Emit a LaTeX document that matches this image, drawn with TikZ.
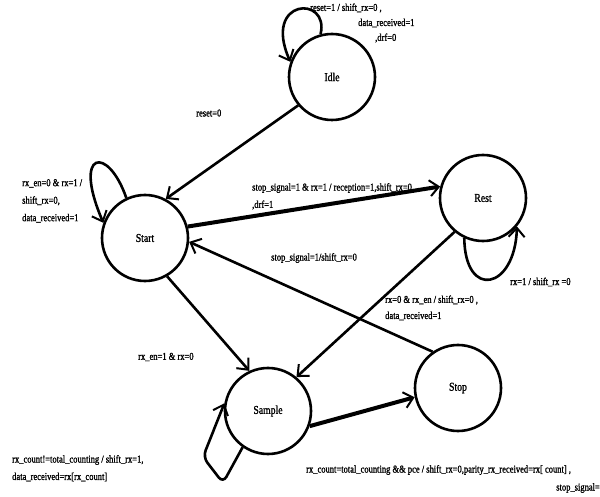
\documentclass[tikz,border=0pt]{standalone}
\usepackage{fontspec}
\setmainfont{Liberation Serif}[FakeStretch=0.81,FakeBold=1.2]
\usetikzlibrary{arrows.meta}
\tikzset{
  state/.style={circle, draw, line width=2.6pt, minimum size=86pt, inner sep=0pt, font=\fontsize{12}{14}\selectfont},
  arr/.style={line width=2.6pt, -{Straight Barb[length=9pt,width=16pt,line width=2pt]}},
  thickarr/.style={arr, line width=4pt},
  lbl/.style={font=\fontsize{10.5}{17.5}\selectfont, inner sep=0pt, align=left}
}
\begin{document}
\begin{tikzpicture}[x=1pt,y=-1pt]
\useasboundingbox (0,0) rectangle (600,497);
\node[state] (Idle) at (332,77) {Idle};
\node[state] (Rest) at (483,198) {Rest};
\node[state] (Start) at (145,238) {Start};
\node[state] (Sample) at (268,411) {Sample};
\node[state] (Stop) at (458,388) {Stop};

% self loops
\draw[arr] (Idle.105) .. controls (330,-5) and (262,-2) .. (Idle.160);
\draw[arr] (Start.115) .. controls (108,145) and (72,150) .. (Start.160);
\draw[arr] (Rest.245) .. controls (465,300) and (515,290) .. (Rest.320);
\draw[arr, rounded corners=7pt] (Sample.235) -- (223,483) -- (203,457) -- (Sample.170);

% transitions
\draw[arr] (Idle.220) -- (Start.62);
\draw[thickarr] (Start.15) -- (Rest.165);
\draw[arr] (Stop.125) -- (Start.-5);
\draw[arr] (Rest.230) -- (Sample.50);
\draw[arr] (Start.300) -- (Sample.115);
\draw[thickarr] (Sample.-20) -- (Stop.192);

% labels
\node[lbl, anchor=west] (l1) at (310,8) {reset=1 / shift\_rx=0 ,};
\node[lbl, anchor=west] (l2) at (358,23) {data\_received=1};
\node[lbl, anchor=west] (l3) at (375,38) {,drf=0};
\node[lbl, anchor=west] (l4) at (196,113) {reset=0};
\node[lbl, anchor=north west] (l5) at (22,179) {rx\_en=0 \& rx=1 /\\shift\_rx=0,\\data\_received=1};
\node[lbl, anchor=west] (l6) at (252,188) {stop\_signal=1 \& rx=1 / reception=1,shift\_rx=0};
\node[lbl, anchor=west] (l7) at (252,205) {,drf=1};
\node[lbl, anchor=west] (l8) at (271,258) {stop\_signal=1/shift\_rx=0};
\node[lbl, anchor=west] (l9) at (385,300) {rx=0 \& rx\_en / shift\_rx=0 ,};
\node[lbl, anchor=west] (l10) at (385,316) {data\_received=1};
\node[lbl, anchor=west] (l11) at (510,282) {rx=1 / shift\_rx =0};
\node[lbl, anchor=west] (l12) at (138,357) {rx\_en=1 \& rx=0};
\node[lbl, anchor=west] (l13) at (12,460) {rx\_count!=total\_counting / shift\_rx=1,};
\node[lbl, anchor=west] (l14) at (12,477) {data\_received=rx[rx\_count]};
\node[lbl, anchor=west] (l15) at (306,470) {rx\_count=total\_counting \&\& pce / shift\_rx=0,parity\_rx\_received=rx[ count] ,};
\node[lbl, anchor=east] (l16) at (600,488) {stop\_signal=};
\end{tikzpicture}
\end{document}
